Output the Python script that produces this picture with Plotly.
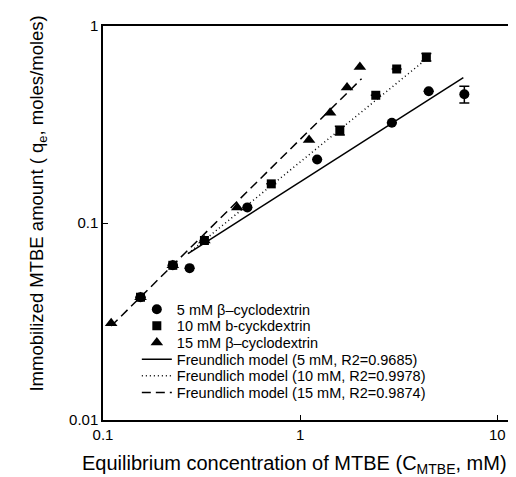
import plotly.graph_objects as go

# 5 mM beta-cyclodextrin
c5_x = [0.155, 0.226, 0.275, 0.54, 1.22, 2.92, 4.49, 6.81]
c5_y = [0.042, 0.061, 0.059, 0.120, 0.210, 0.323, 0.466, 0.450]
c5_err = [None, None, None, None, None, None, None, 0.044]

# 10 mM b-cyclodextrin
c10_x = [0.155, 0.226, 0.327, 0.714, 1.59, 2.42, 3.09, 4.37]
c10_y = [0.042, 0.061, 0.0815, 0.158, 0.295, 0.445, 0.605, 0.695]
c10_err = [None, None, None, None, 0.015, None, None, 0.03]

# 15 mM beta-cyclodextrin
c15_x = [0.11, 0.155, 0.226, 0.327, 0.48, 1.11, 1.42, 1.73, 2.01]
c15_y = [0.031, 0.042, 0.061, 0.0815, 0.120, 0.264, 0.363, 0.488, 0.620]

# Freundlich model lines (end points)
fit5_x = [0.27, 6.73]
fit5_y = [0.070, 0.547]
fit10_x = [0.27, 4.37]
fit10_y = [0.070, 0.680]
fit15_x = [0.11, 2.05]
fit15_y = [0.030, 0.540]

x_ticks = [0.1, 1, 10]
x_ticktext = ["0.1", "1", "10"]
y_ticks = [0.01, 0.1, 1]
y_ticktext = ["0.01", "0.1", "1"]

legend_names = [
    "5 mM β–cyclodextrin",
    "10 mM b-cyckdextrin",
    "15 mM β–cyclodextrin",
    "Freundlich model (5 mM, R2=0.9685)",
    "Freundlich model (10 mM, R2=0.9978)",
    "Freundlich model (15 mM, R2=0.9874)",
]

FONT = "Liberation Sans, Arial, sans-serif"
legend_ids = ["legend", "legend2", "legend3", "legend4", "legend5", "legend6"]

fig = go.Figure()

fig.add_trace(go.Scatter(
    x=c5_x, y=c5_y, mode="markers", name=legend_names[0], legend=legend_ids[0],
    marker=dict(symbol="circle", size=10, color="black"),
    error_y=dict(type="data", array=c5_err, visible=True, color="black", thickness=1.5, width=5),
))
fig.add_trace(go.Scatter(
    x=c10_x, y=c10_y, mode="markers", name=legend_names[1], legend=legend_ids[1],
    marker=dict(symbol="square", size=9, color="black"),
    error_y=dict(type="data", array=c10_err, visible=True, color="black", thickness=1.5, width=5),
))
fig.add_trace(go.Scatter(
    x=c15_x, y=c15_y, mode="markers", name=legend_names[2], legend=legend_ids[2],
    marker=dict(symbol="triangle-up", size=11, color="black"),
))
fig.add_trace(go.Scatter(
    x=fit5_x, y=fit5_y, mode="lines", name=legend_names[3], legend=legend_ids[3],
    line=dict(color="black", width=1.5, dash="solid"),
))
fig.add_trace(go.Scatter(
    x=fit10_x, y=fit10_y, mode="lines", name=legend_names[4], legend=legend_ids[4],
    line=dict(color="black", width=1.5, dash="1px,3px"),
))
fig.add_trace(go.Scatter(
    x=fit15_x, y=fit15_y, mode="lines", name=legend_names[5], legend=legend_ids[5],
    line=dict(color="black", width=1.5, dash="9px,5px"),
))

axis_common = dict(
    type="log", showgrid=False, zeroline=False,
    showline=True, linecolor="black", linewidth=1.5, mirror=True,
    ticks="inside", ticklen=5, tickwidth=1, tickcolor="black",
    tickfont=dict(family=FONT, size=15, color="black"),
)

# legend rows, pixel centres converted to paper coordinates of the plot area
row_y_px = [299, 316, 333, 350, 367, 384]
legend_layout = {}
for lid, ypx in zip(legend_ids, row_y_px):
    legend_layout[lid] = dict(
        x=0.0825, y=(412 - ypx) / 402, xanchor="left", yanchor="middle",
        bgcolor="rgba(0,0,0,0)", borderwidth=0,
        font=dict(family=FONT, size=14.5, color="black"),
    )

fig.update_layout(
    width=516, height=477,
    margin=dict(l=95, r=9, t=10, b=65),
    paper_bgcolor="white", plot_bgcolor="white",
    font=dict(family=FONT, color="black"),
    showlegend=True,
    xaxis=dict(axis_common, range=[-1, 1.08], tickvals=x_ticks, ticktext=x_ticktext),
    yaxis=dict(axis_common, range=[-2, 0], tickvals=y_ticks, ticktext=y_ticktext),
    annotations=[
        dict(text="Equilibrium concentration of MTBE (C<sub>MTBE</sub>, mM)",
             xref="paper", yref="paper", x=0.466, y=-0.114, xanchor="center", yanchor="middle",
             showarrow=False, font=dict(family=FONT, size=20, color="black")),
        dict(text="Immobilized MTBE amount ( q<sub>e</sub>, moles/moles)",
             xref="paper", yref="paper", x=-0.158, y=0.55, xanchor="center", yanchor="middle",
             textangle=-90, showarrow=False, font=dict(family=FONT, size=18.5, color="black")),
    ],
    **legend_layout,
)

fig.write_html("out.html")
